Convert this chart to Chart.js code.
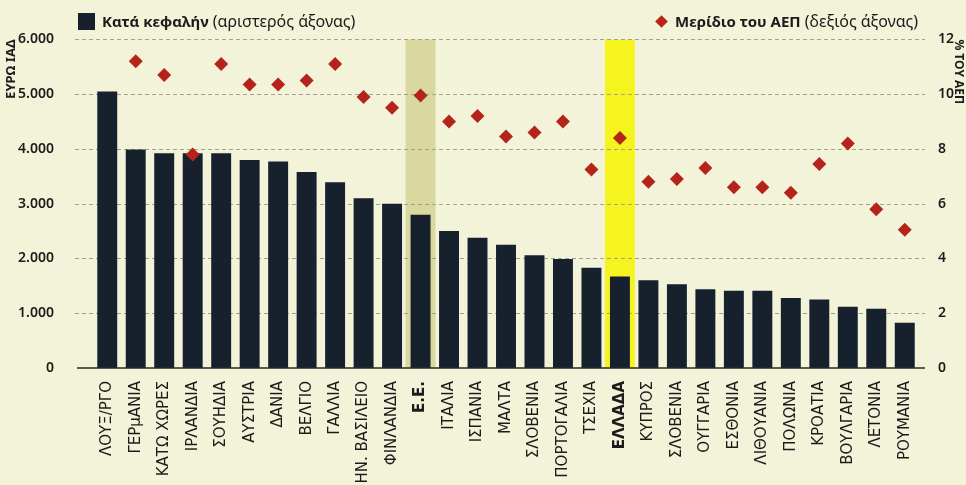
<!DOCTYPE html>
<html>
<head>
<meta charset="utf-8">
<script src="https://cdn.jsdelivr.net/npm/chart.js@4.4.0/dist/chart.umd.min.js"></script>
<style>
	html, body { margin: 0; padding: 0; background: #f3f3da; }
	#wrap { position: relative; width: 966px; height: 485px; overflow: hidden; font-family: 'Noto Sans', sans-serif; color: #1b1b1b; }
	#chart { position: absolute; left: 0; top: 0; }
	.lg { position: absolute; top: 10px; font-size: 16px; line-height: 22px; white-space: nowrap; }
	.lg b { font-weight: 700; font-size: 15px; }
	.sq { display: inline-block; width: 17px; height: 17px; background: #16212d; vertical-align: -3px; margin-right: 7px; }
	.dm { display: inline-block; width: 9px; height: 9px; background: #b8231a; transform: rotate(45deg); vertical-align: 1px; margin-right: 9px; }
</style>
</head>
<body>
<div id="wrap">
	<canvas id="chart" width="966" height="485"></canvas>
	<div class="lg" style="left:78px"><span class="sq"></span><b>Κατά κεφαλήν</b> (αριστερός άξονας)</div>
	<div class="lg" style="left:657px"><span class="dm"></span><b>Μερίδιο του ΑΕΠ</b> (δεξιός άξονας)</div>
</div>
<script>
// categories as printed (second ΣΛΟΒΕΝΙΑ is in the original too)
var countries = ['ΛΟΥΞ/ΡΓΟ', 'ΓΕΡμΑΝΙΑ', 'ΚΑΤΩ ΧΩΡΕΣ', 'ΙΡΛΑΝΔΙΑ', 'ΣΟΥΗΔΙΑ', 'ΑΥΣΤΡΙΑ', 'ΔΑΝΙΑ', 'ΒΕΛΓΙΟ',
	'ΓΑΛΛΙΑ', 'ΗΝ. ΒΑΣΙΛΕΙΟ', 'ΦΙΝΛΑΝΔΙΑ', 'Ε.Ε.', 'ΙΤΑΛΙΑ', 'ΙΣΠΑΝΙΑ', 'ΜΑΛΤΑ', 'ΣΛΟΒΕΝΙΑ', 'ΠΟΡΤΟΓΑΛΙΑ',
	'ΤΣΕΧΙΑ', 'ΕΛΛΑΔΑ', 'ΚΥΠΡΟΣ', 'ΣΛΟΒΕΝΙΑ', 'ΟΥΓΓΑΡΙΑ', 'ΕΣΘΟΝΙΑ', 'ΛΙΘΟΥΑΝΙΑ', 'ΠΟΛΩΝΙΑ', 'ΚΡΟΑΤΙΑ',
	'ΒΟΥΛΓΑΡΙΑ', 'ΛΕΤΟΝΙΑ', 'ΡΟΥΜΑΝΙΑ'];

// per capita, euro PPS (left axis)
var perCapita = [5050, 3990, 3920, 3920, 3920, 3800, 3770, 3580, 3390, 3100, 3000, 2800, 2500, 2380, 2250,
	2060, 1990, 1830, 1670, 1600, 1530, 1440, 1410, 1410, 1280, 1250, 1120, 1080, 825];

// share of GDP, % (right axis) - no marker for Luxembourg
var gdpShare = [null, 11.2, 10.7, 7.8, 11.1, 10.35, 10.35, 10.5, 11.1, 9.9, 9.5, 9.95, 9.0, 9.2, 8.45,
	8.6, 9.0, 7.25, 8.4, 6.8, 6.9, 7.3, 6.6, 6.6, 6.4, 7.45, 8.2, 5.8, 5.05];

var leftTicks = [0, 1000, 2000, 3000, 4000, 5000, 6000];
var rightTicks = [0, 2, 4, 6, 8, 10, 12];

// highlighted columns
var highlightIdx = { 'Ε.Ε.': '#d9d89e', 'ΕΛΛΑΔΑ': '#f6f41e' };

var bandData = countries.map(function(c) { return highlightIdx[c] ? 6050 : null; });
var bandColors = countries.map(function(c) { return highlightIdx[c] || 'rgba(0,0,0,0)'; });

var ink = '#1b1b1b';
var gridCol = '#a3a291';

// dashed grid (over the bands, under the bars) + solid zero line, both running past the plot
var gridLines = {
	id: 'gridLines',
	afterDatasetDraw: function(chart, args) {
		if (args.index !== 0) return;
		var ctx = chart.ctx,
		    ys = chart.scales.y;
		ctx.save();
		ctx.strokeStyle = gridCol;
		ctx.lineWidth = 1;
		ctx.setLineDash([4, 3]);
		leftTicks.forEach(function(v) {
			if (v === 0) return;
			var y = Math.round(ys.getPixelForValue(v)) + 0.5;
			ctx.beginPath();
			ctx.moveTo(75, y);
			ctx.lineTo(925, y);
			ctx.stroke();
		});
		ctx.restore();
	},
	afterDatasetsDraw: function(chart) {
		var ctx = chart.ctx,
		    y = chart.scales.y.getPixelForValue(0);
		ctx.save();
		ctx.strokeStyle = '#2a2a2a';
		ctx.lineWidth = 1.5;
		ctx.beginPath();
		ctx.moveTo(77, y);
		ctx.lineTo(925, y);
		ctx.stroke();
		ctx.restore();
	}
};

var config = {
	type: 'bar',
	data: {
		labels: countries,
		datasets: [{
			label: 'band',
			data: bandData,
			backgroundColor: bandColors,
			barPercentage: 1.05,
			categoryPercentage: 1,
			grouped: false,
			yAxisID: 'y',
			order: 3
		}, {
			label: 'Κατά κεφαλήν',
			data: perCapita,
			backgroundColor: '#16212d',
			barPercentage: 0.7,
			categoryPercentage: 1,
			grouped: false,
			yAxisID: 'y',
			order: 2
		}, {
			type: 'line',
			label: 'Μερίδιο του ΑΕΠ',
			data: gdpShare,
			showLine: false,
			pointStyle: 'rectRot',
			pointRadius: 7,
			pointBackgroundColor: '#b5241b',
			pointBorderColor: '#b5241b',
			pointBorderWidth: 0,
			yAxisID: 'y2',
			order: 1
		}]
	},
	options: {
		responsive: false,
		animation: false,
		layout: { padding: { top: 38, left: 0, right: 0, bottom: 0 } },
		plugins: {
			legend: { display: false },
			tooltip: { enabled: false }
		},
		scales: {
			x: {
				grid: { display: false },
				border: { display: false },
				ticks: {
					minRotation: 90,
					maxRotation: 90,
					autoSkip: false,
					padding: 5,
					color: ink,
					font: function(c) {
						var lbl = countries[c.index];
						return { family: 'DejaVu Sans', size: 15, weight: highlightIdx[lbl] ? '700' : '400' };
					}
				},
				afterFit: function(scale) { scale.height = 117; }
			},
			y: {
				position: 'left',
				min: 0,
				max: 6000,
				afterBuildTicks: function(scale) {
					scale.ticks = leftTicks.map(function(v) { return { value: v }; });
				},
				grid: { display: false },
				border: { display: false },
				ticks: {
					padding: 31,
					color: ink,
					font: { family: 'Noto Sans', size: 14, weight: '600' },
					callback: function(v) { return v === 0 ? '0' : v.toLocaleString('de-DE'); }
				},
				title: {
					display: true,
					text: 'ΕΥΡΩ ΙΑΔ',
					align: 'end',
					color: ink,
					padding: { top: 3, bottom: 0 },
					font: { family: 'Noto Sans', size: 13, weight: '700' }
				},
				afterFit: function(scale) { scale.width = 93; }
			},
			y2: {
				position: 'right',
				min: 0,
				max: 12,
				afterBuildTicks: function(scale) {
					scale.ticks = rightTicks.map(function(v) { return { value: v }; });
				},
				grid: { display: false },
				border: { display: false },
				ticks: {
					padding: 11,
					color: ink,
					font: { family: 'Noto Sans', size: 14, weight: '600' }
				},
				title: {
					display: true,
					text: '% ΤΟΥ ΑΕΠ',
					align: 'end',
					color: ink,
					padding: { top: 0, bottom: 2 },
					font: { family: 'Noto Sans', size: 12, weight: '700' }
				},
				afterFit: function(scale) { scale.width = 47; }
			}
		}
	},
	plugins: [gridLines]
};

var chart = new Chart(document.getElementById('chart'), config);
</script>
</body>
</html>
